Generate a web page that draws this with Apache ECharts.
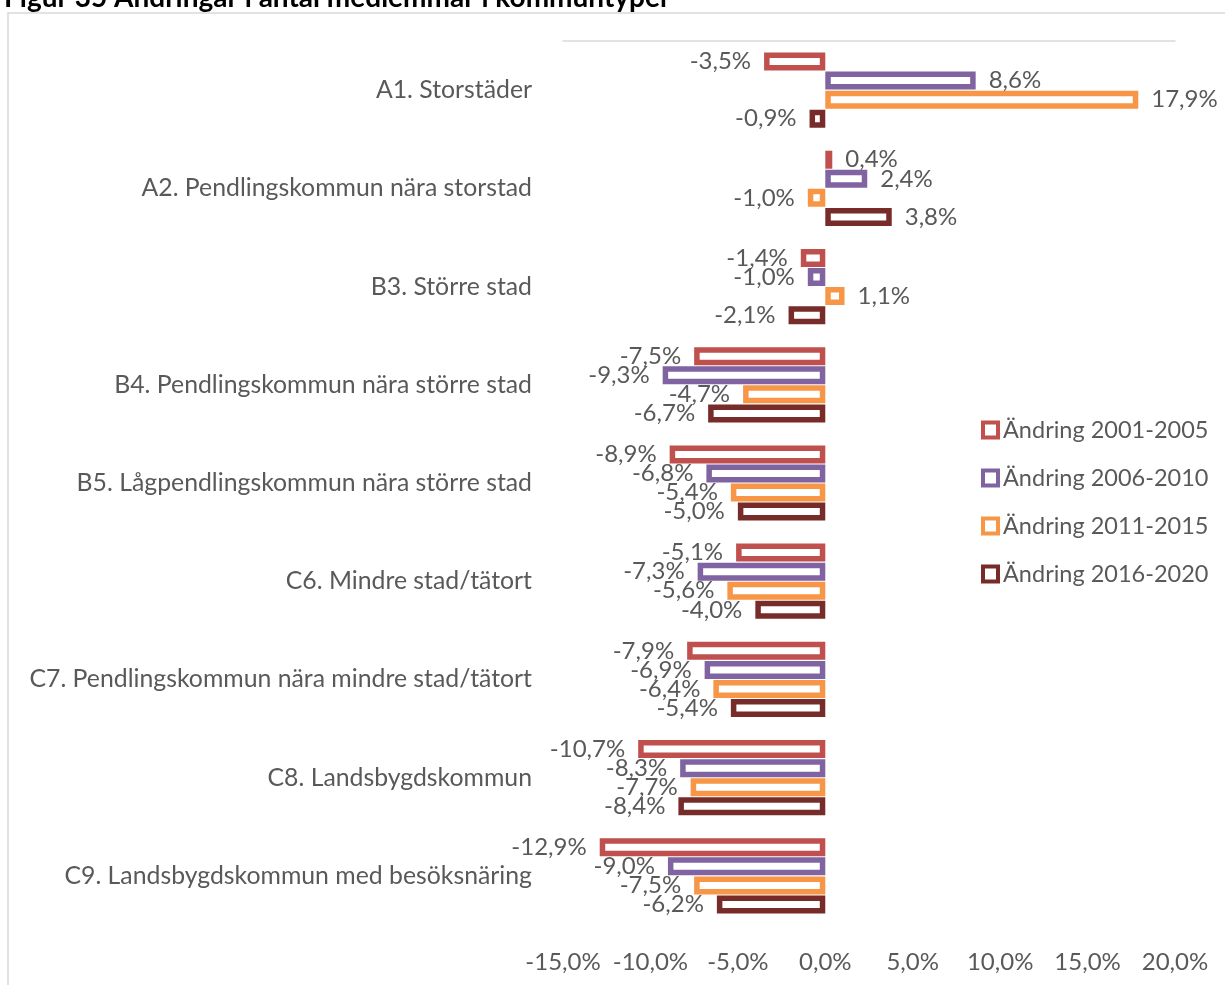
<!DOCTYPE html>
<html>
<head>
<meta charset="utf-8">
<script src="https://cdn.jsdelivr.net/npm/echarts@6/dist/echarts.min.js"></script>
<style>
  html, body { margin: 0; padding: 0; background: #ffffff; }
  #chart { width: 1225px; height: 985px; }
</style>
</head>
<body>
<div id="chart"></div>
<script>
// Kommuntyper (top to bottom)
const categories = [
  'A1. Storstäder',
  'A2. Pendlingskommun nära storstad',
  'B3. Större stad',
  'B4. Pendlingskommun nära större stad',
  'B5. Lågpendlingskommun nära större stad',
  'C6. Mindre stad/tätort',
  'C7. Pendlingskommun nära mindre stad/tätort',
  'C8. Landsbygdskommun',
  'C9. Landsbygdskommun med besöksnäring'
];

// Förändring i procent per period
const change2001_2005 = [-3.5, 0.4, -1.4, -7.5, -8.9, -5.1, -7.9, -10.7, -12.9];
const change2006_2010 = [8.6, 2.4, -1.0, -9.3, -6.8, -7.3, -6.9, -8.3, -9.0];
const change2011_2015 = [17.9, -1.0, 1.1, -4.7, -5.4, -5.6, -6.4, -7.7, -7.5];
const change2016_2020 = [-0.9, 3.8, -2.1, -6.7, -5.0, -4.0, -5.4, -8.4, -6.2];

const seriesNames = ['Ändring 2001-2005', 'Ändring 2006-2010', 'Ändring 2011-2015', 'Ändring 2016-2020'];
const seriesValues = [change2001_2005, change2006_2010, change2011_2015, change2016_2020];
const seriesColors = ['#C0504D', '#8064A2', '#F79646', '#772C2A'];

// Value axis range (percent)
const axisMin = -15;
const axisMax = 20;
const axisStep = 5;

const FONT = 'Lato';
const TEXT = '#595959';

const pct = v => v.toFixed(1).replace('.', ',') + '%';

const chart = echarts.init(document.getElementById('chart'), null, { renderer: 'canvas' });

const series = seriesNames.map((name, i) => ({
  name: name,
  type: 'bar',
  barWidth: 18,
  barGap: '6%',
  itemStyle: { color: '#ffffff', borderColor: seriesColors[i], borderWidth: 5.5 },
  label: {
    show: true,
    distance: 13,
    color: TEXT,
    fontFamily: FONT,
    fontSize: 24,
    formatter: p => pct(p.value)
  },
  data: seriesValues[i].map(v => ({
    value: v,
    label: { position: v < 0 ? 'left' : 'right' }
  }))
}));

chart.setOption({
  animation: false,
  backgroundColor: '#ffffff',
  textStyle: { fontFamily: FONT },
  graphic: [
    {
      type: 'rect',
      shape: { x: 8, y: 13, width: 1240, height: 1000 },
      style: { fill: 'none', stroke: '#d9d9d9', lineWidth: 1.5 },
      silent: true,
      z: -10
    },
    {
      type: 'text',
      x: 4,
      y: -2,
      style: {
        text: 'Figur 35 Ändringar i antal medlemmar i kommuntyper',
        fill: '#000000',
        font: 'bold 28px ' + FONT,
        textVerticalAlign: 'middle'
      },
      silent: true
    }
  ],
  grid: { left: 563, right: 50, top: 41, bottom: 60, containLabel: false },
  legend: {
    orient: 'vertical',
    left: 976,
    top: 413,
    icon: 'rect',
    itemWidth: 15,
    itemHeight: 15,
    itemGap: 24,
    itemStyle: { borderWidth: 4 },
    textStyle: { color: TEXT, fontFamily: FONT, fontSize: 23.5, lineHeight: 24 },
    data: seriesNames
  },
  xAxis: [
    {
      type: 'value',
      position: 'bottom',
      min: axisMin,
      max: axisMax,
      interval: axisStep,
      axisLine: { show: false },
      axisTick: { show: false },
      splitLine: { show: false },
      axisLabel: {
        color: TEXT,
        fontFamily: FONT,
        fontSize: 24,
        margin: 25,
        formatter: v => pct(v)
      }
    },
    {
      type: 'value',
      position: 'top',
      min: axisMin,
      max: axisMax,
      interval: axisStep,
      axisLine: { show: true, onZero: false, lineStyle: { color: '#d9d9d9', width: 1.5 } },
      axisTick: { show: false },
      splitLine: { show: false },
      axisLabel: { show: false }
    }
  ],
  yAxis: {
    type: 'category',
    inverse: true,
    data: categories,
    axisLine: { show: false, onZero: false },
    axisTick: { show: false },
    axisLabel: {
      color: TEXT,
      fontFamily: FONT,
      fontSize: 24.8,
      margin: 31
    }
  },
  series: series
});
</script>
</body>
</html>
